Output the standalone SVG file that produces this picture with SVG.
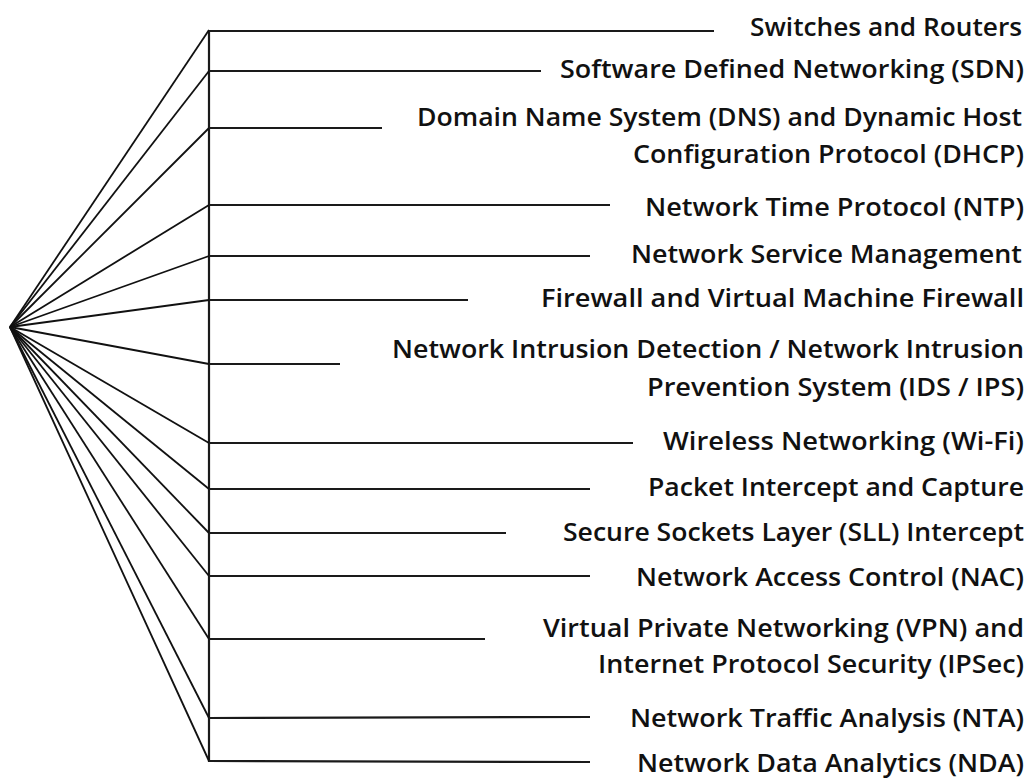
<svg xmlns="http://www.w3.org/2000/svg" width="1034" height="781" viewBox="0 0 1034 781">
<style>
.ln{stroke:#1a1a1a;stroke-width:2.2;fill:none;stroke-linecap:butt}
.fan{stroke:#111;stroke-width:1.8;fill:none}
.t{font-family:"Open Sans",Lato,"Liberation Sans",sans-serif;font-size:26px;font-weight:600;fill:#111;text-anchor:end;font-variant-ligatures:none}
</style>
<rect width="1034" height="781" fill="#fff"/>
<g id="connectors">
<line class="ln" x1="209" y1="30" x2="209" y2="762"/>
<line class="fan" x1="10" y1="327" x2="209" y2="30"/>
<line class="fan" x1="10" y1="327" x2="209" y2="71"/>
<line class="fan" x1="10" y1="327" x2="209" y2="128"/>
<line class="fan" x1="10" y1="327" x2="209" y2="205"/>
<line class="fan" x1="10" y1="327" x2="209" y2="256"/>
<line class="fan" x1="10" y1="327" x2="209" y2="300"/>
<line class="fan" x1="10" y1="327" x2="209" y2="364"/>
<line class="fan" x1="10" y1="327" x2="209" y2="443"/>
<line class="fan" x1="10" y1="327" x2="209" y2="489"/>
<line class="fan" x1="10" y1="327" x2="209" y2="533"/>
<line class="fan" x1="10" y1="327" x2="209" y2="576"/>
<line class="fan" x1="10" y1="327" x2="209" y2="639"/>
<line class="fan" x1="10" y1="327" x2="209" y2="718"/>
<line class="fan" x1="10" y1="327" x2="209" y2="761"/>
</g>
<g id="n1"><line class="ln" x1="209" y1="31" x2="714" y2="31" stroke-width="2.6"/><text class="t" x="1022" y="36" textLength="272" lengthAdjust="spacingAndGlyphs">Switches and Routers</text></g>
<g id="n2"><line class="ln" x1="209" y1="71" x2="541" y2="71" stroke-width="3"/><text class="t" x="1024" y="78" textLength="464" lengthAdjust="spacingAndGlyphs">Software Defined Networking (SDN)</text></g>
<g id="n3"><line class="ln" x1="209" y1="128" x2="382" y2="128" stroke="#555" stroke-width="1.5"/><text class="t" x="1022" y="126" textLength="605" lengthAdjust="spacingAndGlyphs">Domain Name System (DNS) and Dynamic Host</text><text class="t" x="1024" y="163" textLength="391" lengthAdjust="spacingAndGlyphs">Configuration Protocol (DHCP)</text></g>
<g id="n4"><line class="ln" x1="209" y1="205" x2="610" y2="205"/><text class="t" x="1024" y="216" textLength="379" lengthAdjust="spacingAndGlyphs">Network Time Protocol (NTP)</text></g>
<g id="n5"><line class="ln" x1="209" y1="256" x2="590" y2="256"/><text class="t" x="1022" y="263" textLength="391" lengthAdjust="spacingAndGlyphs">Network Service Management</text></g>
<g id="n6"><line class="ln" x1="209" y1="300" x2="468" y2="300"/><text class="t" x="1024" y="307" textLength="483" lengthAdjust="spacingAndGlyphs">Firewall and Virtual Machine Firewall</text></g>
<g id="n7"><line class="ln" x1="209" y1="364" x2="340" y2="364" stroke-width="2.6"/><text class="t" x="1024" y="358" textLength="632" lengthAdjust="spacingAndGlyphs">Network Intrusion Detection / Network Intrusion</text><text class="t" x="1024" y="396" textLength="377" lengthAdjust="spacingAndGlyphs">Prevention System (IDS / IPS)</text></g>
<g id="n8"><line class="ln" x1="209" y1="443" x2="633" y2="443"/><text class="t" x="1024" y="450" textLength="361" lengthAdjust="spacingAndGlyphs">Wireless Networking (Wi-Fi)</text></g>
<g id="n9"><line class="ln" x1="209" y1="489" x2="590" y2="489"/><text class="t" x="1024" y="496" textLength="376" lengthAdjust="spacingAndGlyphs">Packet Intercept and Capture</text></g>
<g id="n10"><line class="ln" x1="209" y1="533" x2="506" y2="533"/><text class="t" x="1024" y="541" textLength="461" lengthAdjust="spacingAndGlyphs">Secure Sockets Layer (SLL) Intercept</text></g>
<g id="n11"><line class="ln" x1="209" y1="576" x2="590" y2="576"/><text class="t" x="1024" y="586" textLength="388" lengthAdjust="spacingAndGlyphs">Network Access Control (NAC)</text></g>
<g id="n12"><line class="ln" x1="209" y1="639" x2="485" y2="639" stroke="#444"/><text class="t" x="1024" y="637" textLength="481" lengthAdjust="spacingAndGlyphs">Virtual Private Networking (VPN) and</text><text class="t" x="1024" y="673" textLength="426" lengthAdjust="spacingAndGlyphs">Internet Protocol Security (IPSec)</text></g>
<g id="n13"><line class="ln" x1="209" y1="718" x2="590" y2="717"/><text class="t" x="1024" y="727" textLength="394" lengthAdjust="spacingAndGlyphs">Network Traffic Analysis (NTA)</text></g>
<g id="n14"><line class="ln" x1="209" y1="761" x2="590" y2="762"/><text class="t" x="1024" y="772" textLength="387" lengthAdjust="spacingAndGlyphs">Network Data Analytics (NDA)</text></g>
</svg>
